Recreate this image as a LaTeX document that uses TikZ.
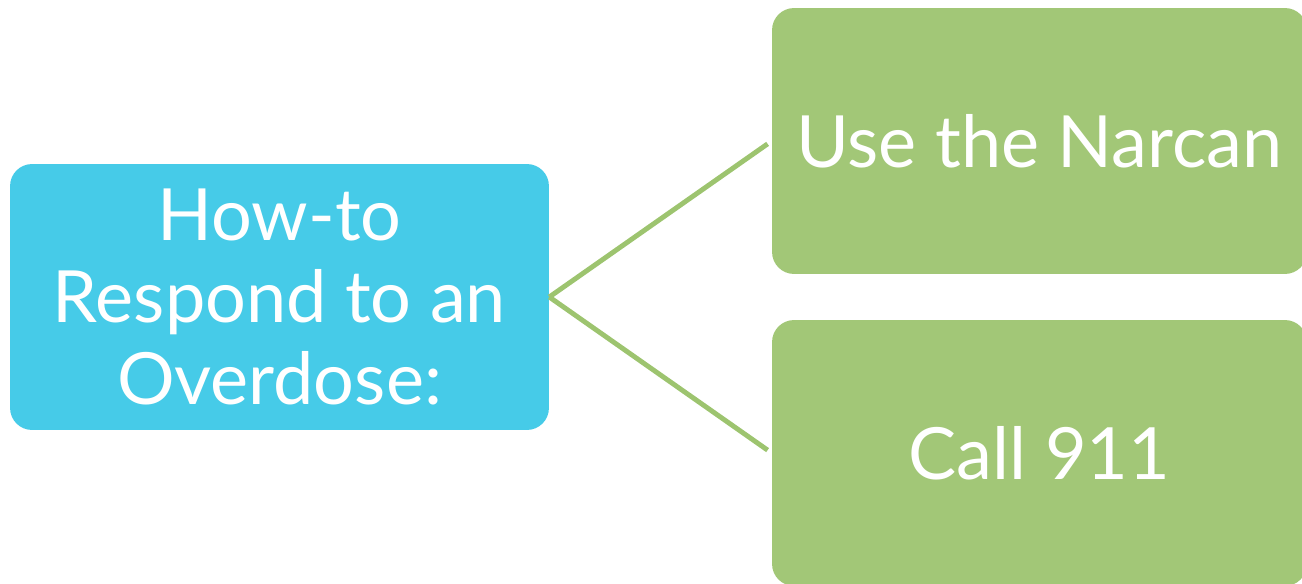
\documentclass[tikz,border=0pt]{standalone}
\usepackage{fontspec}
\setmainfont{Lato}
\definecolor{howtoblue}{HTML}{46CBE8}
\definecolor{stepgreen}{HTML}{A2C777}
\definecolor{linkgreen}{HTML}{9DC46F}
\begin{document}
\begin{tikzpicture}[x=0.02cm,y=0.02cm,
  box/.style={rounded corners=0.44cm, text=white, align=center,
    font=\fontsize{41}{46.7}\selectfont, inner sep=0pt},
  topic/.style={box, fill=howtoblue, minimum width=10.78cm, minimum height=5.32cm},
  action/.style={box, fill=stepgreen, minimum width=10.7cm, minimum height=5.32cm},
  link/.style={linkgreen, line width=2.8pt, shorten >=0.1cm}]
\useasboundingbox (0,0) rectangle (1302,583);

\node[topic] (howto) at (279.5,286) {How-to\\Respond to an\\Overdose:};
\node[action] (narcan) at (1039.5,442) {Use the Narcan};
\node[action] (call) at (1039.5,130) {Call 911};

\draw[link] (howto.east) -- (narcan.west);
\draw[link] (howto.east) -- (call.west);
\end{tikzpicture}
\end{document}
